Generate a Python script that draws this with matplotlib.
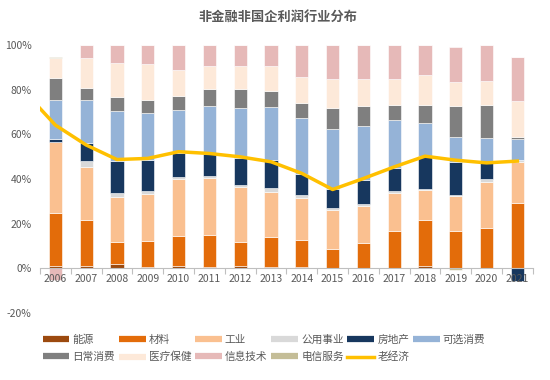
import numpy as np
import matplotlib.pyplot as plt
from matplotlib.lines import Line2D

plt.rcParams['font.family'] = ['Noto Sans CJK SC', 'DejaVu Sans']

years = [str(y) for y in range(2006, 2022)]

# industry shares of profit (%)
energy    = [1.0, 1.0, 1.8, 0.5, 1.0, 0.8, 1.0, 0.5, 0.8, 0.0, 0.0, 0.3, 1.0, 0.3, 0.0, 0.3]
materials = [23.8, 20.8, 9.9, 11.6, 13.3, 14.1, 10.8, 13.7, 12.1, 8.7, 11.5, 16.3, 20.8, 16.6, 18.2, 29.1]
industry  = [31.7, 23.6, 20.3, 21.2, 25.5, 25.6, 24.5, 20.0, 18.6, 17.3, 16.5, 17.2, 13.2, 15.4, 20.5, 18.0]
utilities = [0.0, 2.6, 1.8, 1.2, 1.0, 0.9, 1.2, 1.7, 1.2, 0.9, 1.0, 0.7, 0.3, 0.6, 1.5, 1.3]
realestate = [1.5, 7.9, 14.3, 14.2, 10.9, 9.7, 12.1, 12.5, 9.5, 8.4, 10.5, 10.2, 14.9, 14.8, 7.5, -5.5]
discretionary = [17.2, 19.3, 22.3, 20.7, 19.2, 21.5, 22.0, 23.8, 25.1, 27.2, 24.3, 21.7, 14.7, 10.9, 10.7, 9.0]
staples   = [9.9, 5.4, 6.4, 6.1, 6.4, 7.7, 8.7, 7.2, 6.8, 9.1, 8.8, 6.7, 8.2, 14.0, 14.7, 0.9]
health    = [9.0, 13.4, 15.3, 15.8, 11.5, 10.3, 10.3, 11.2, 11.3, 13.2, 12.0, 11.8, 13.3, 10.7, 10.9, 16.4]
it        = [-5.0, 6.0, 7.9, 8.7, 11.2, 9.4, 9.4, 9.4, 14.6, 15.2, 15.4, 15.1, 13.6, 15.7, 16.0, 19.5]
telecom   = [0.5, 0.0, 0.0, 0.0, 0.0, 0.0, 0.0, 0.0, 0.0, 0.0, 0.0, 0.0, 0.0, -0.8, 0.0, 0.0]

# old economy share, first value is 2005 (only partly visible)
old_econ = [79.0, 64.1, 55.2, 48.7, 49.2, 52.2, 51.4, 49.9, 47.7, 42.5, 35.3, 40.2, 45.4, 50.2, 48.4, 47.2, 48.0]

names = ['能源', '材料', '工业', '公用事业', '房地产', '可选消费',
         '日常消费', '医疗保健', '信息技术', '电信服务']
series = [energy, materials, industry, utilities, realestate, discretionary,
          staples, health, it, telecom]
colors = ['#9C4A0F', '#E36C0A', '#FAC090', '#D9D9D9', '#17375E', '#95B3D7',
          '#7F7F7F', '#FDE9D9', '#E6B9B8', '#C4BD97']
line_color = '#FFC000'
txt = '#595959'

fig = plt.figure(figsize=(5.5, 3.8), dpi=100)
ax = fig.add_axes([0.0727, 0.176, 0.896, 0.706])

x = np.arange(len(years))
pos = np.zeros(len(years))
neg = np.zeros(len(years))
for vals, c in zip(series, colors):
    v = np.array(vals)
    bottom = np.where(v >= 0, pos, neg)
    ax.bar(x, v, 0.43, bottom=bottom, color=c, edgecolor='white', linewidth=0.4)
    pos += np.where(v >= 0, v, 0)
    neg += np.where(v < 0, v, 0)

ax.plot(np.arange(-1, len(years)), old_econ, color=line_color, lw=2.5, zorder=5)

ax.set_xlim(-0.5, len(years) - 0.5)
ax.set_ylim(-20, 100)
ax.set_yticks(range(-20, 101, 20))
ax.set_yticklabels([f'{v}%' for v in range(-20, 101, 20)])

for s in ['top', 'right', 'left']:
    ax.spines[s].set_visible(False)
ax.spines['bottom'].set_position(('data', 0))
ax.spines['bottom'].set_color('#BFBFBF')

ax.set_xticks(np.arange(-0.5, len(years), 1))
ax.set_xticklabels([])
ax.set_xticks(x, minor=True)
ax.set_xticklabels(years, minor=True)
ax.tick_params(axis='x', which='major', length=4, color='#BFBFBF', direction='out')
ax.tick_params(axis='x', which='minor', length=0, pad=4, labelsize=7.5, labelcolor=txt)
ax.tick_params(axis='y', length=0, labelsize=7.5, labelcolor=txt, pad=6)

fig.text(0.505, 0.955, '非金融非国企利润行业分布', ha='center', va='center',
         fontsize=9.5, fontweight='bold', color=txt)

handles = [Line2D([0], [0], color=c, lw=4.5, solid_capstyle='butt') for c in colors]
handles.append(Line2D([0], [0], color=line_color, lw=2.5))
labels = names + ['老经济']
order = [0, 6, 1, 7, 2, 8, 3, 9, 4, 10, 5]
fig.legend([handles[i] for i in order], [labels[i] for i in order],
           ncol=6, loc='center', bbox_to_anchor=(0.48, 0.083), frameon=False,
           fontsize=7.7, labelcolor=txt, handlelength=2.5, handletextpad=0.3,
           columnspacing=0.35, labelspacing=0.65)

fig.savefig('out.png', dpi=100)
